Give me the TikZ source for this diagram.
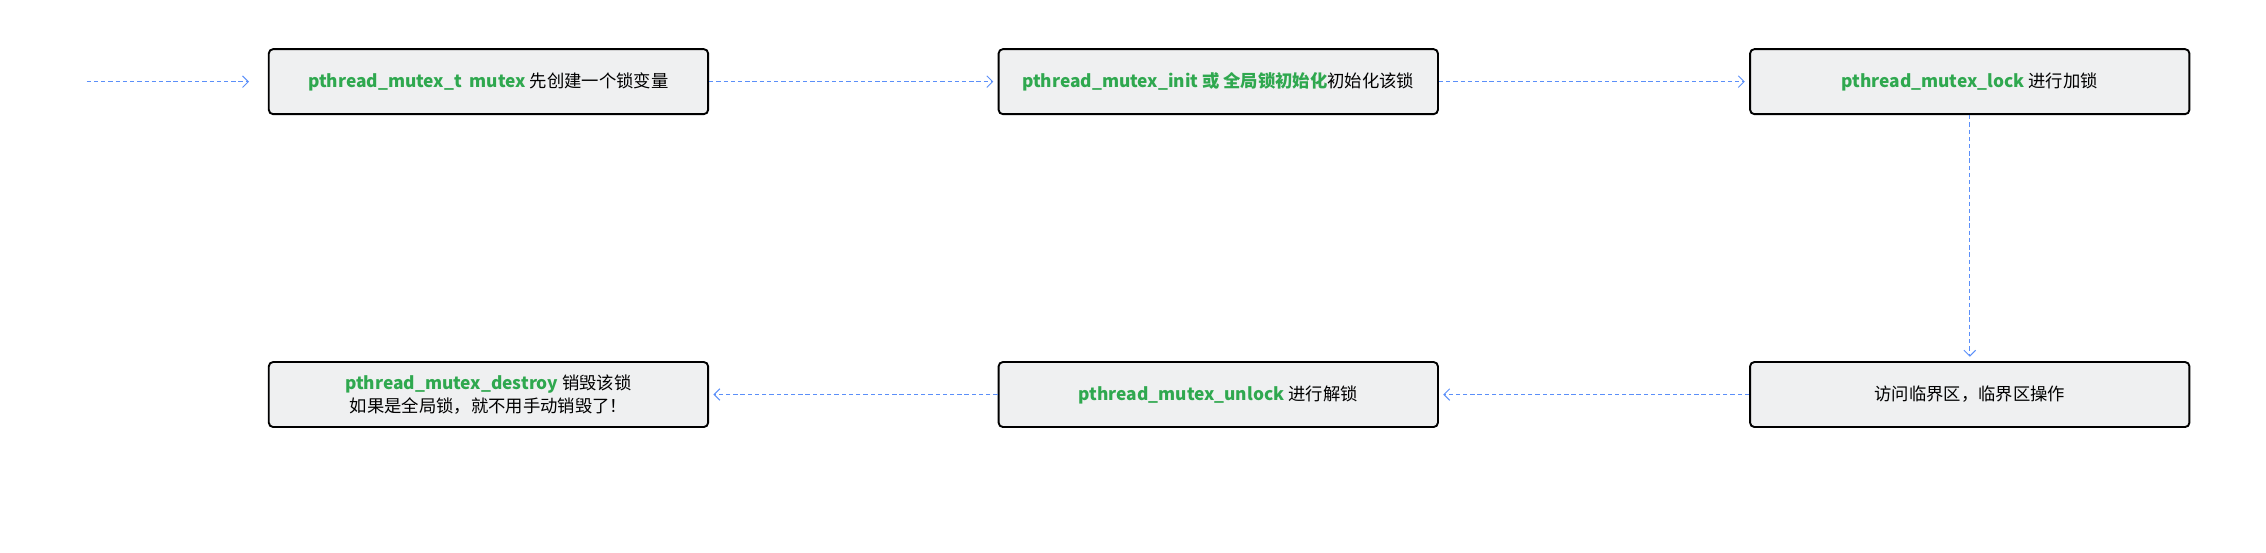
\documentclass[tikz,border=0pt]{standalone}
\usepackage{fontspec}
\setmainfont{Noto Sans CJK SC}
\usetikzlibrary{arrows.meta}
\definecolor{gtext}{HTML}{2FA84F}
\definecolor{boxfill}{HTML}{EFF0F1}
\definecolor{arr}{HTML}{5B8FF9}
\begin{document}
\begin{tikzpicture}[x=1pt,y=-1pt,
  stepbox/.style={draw=black,line width=1.3pt,rounded corners=3pt,fill=boxfill,minimum width=304pt,minimum height=45pt,align=center,font=\fontsize{12}{16}\selectfont},
  flow/.style={draw=arr,dashed,dash pattern=on 3pt off 2pt,line width=0.7pt,-{Straight Barb[length=4pt,width=8pt]}},
  g/.style={}]
\useasboundingbox (0,0) rectangle (1568,382);
\newcommand{\gr}[1]{\textcolor{gtext}{\textbf{#1}}}
\node[stepbox] (a) at (338,56.5) {\gr{pthread\_mutex\_t\ \ mutex} 先创建一个锁变量};
\node[stepbox] (b) at (843,56.5) {\gr{pthread\_mutex\_init 或 全局锁初始化}初始化该锁};
\node[stepbox] (c) at (1363,56.5) {\gr{pthread\_mutex\_lock} 进行加锁};
\node[stepbox] (d) at (1363,273) {访问临界区，临界区操作};
\node[stepbox] (e) at (843,273) {\gr{pthread\_mutex\_unlock} 进行解锁};
\node[stepbox] (f) at (338,273) {\gr{pthread\_mutex\_destroy} 销毁该锁\\如果是全局锁，就不用手动销毁了！};
\coordinate (s) at (60,56.5);
\draw[flow,shorten >=13pt] (s) -- (a.west);
\draw[flow,shorten >=3pt] (a.east) -- (b.west);
\draw[flow,shorten >=3pt] (b.east) -- (c.west);
\draw[flow,shorten >=3pt] (c.south) -- (d.north);
\draw[flow,shorten >=3pt] (d.west) -- (e.east);
\draw[flow,shorten >=3pt] (e.west) -- (f.east);
\end{tikzpicture}
\end{document}
